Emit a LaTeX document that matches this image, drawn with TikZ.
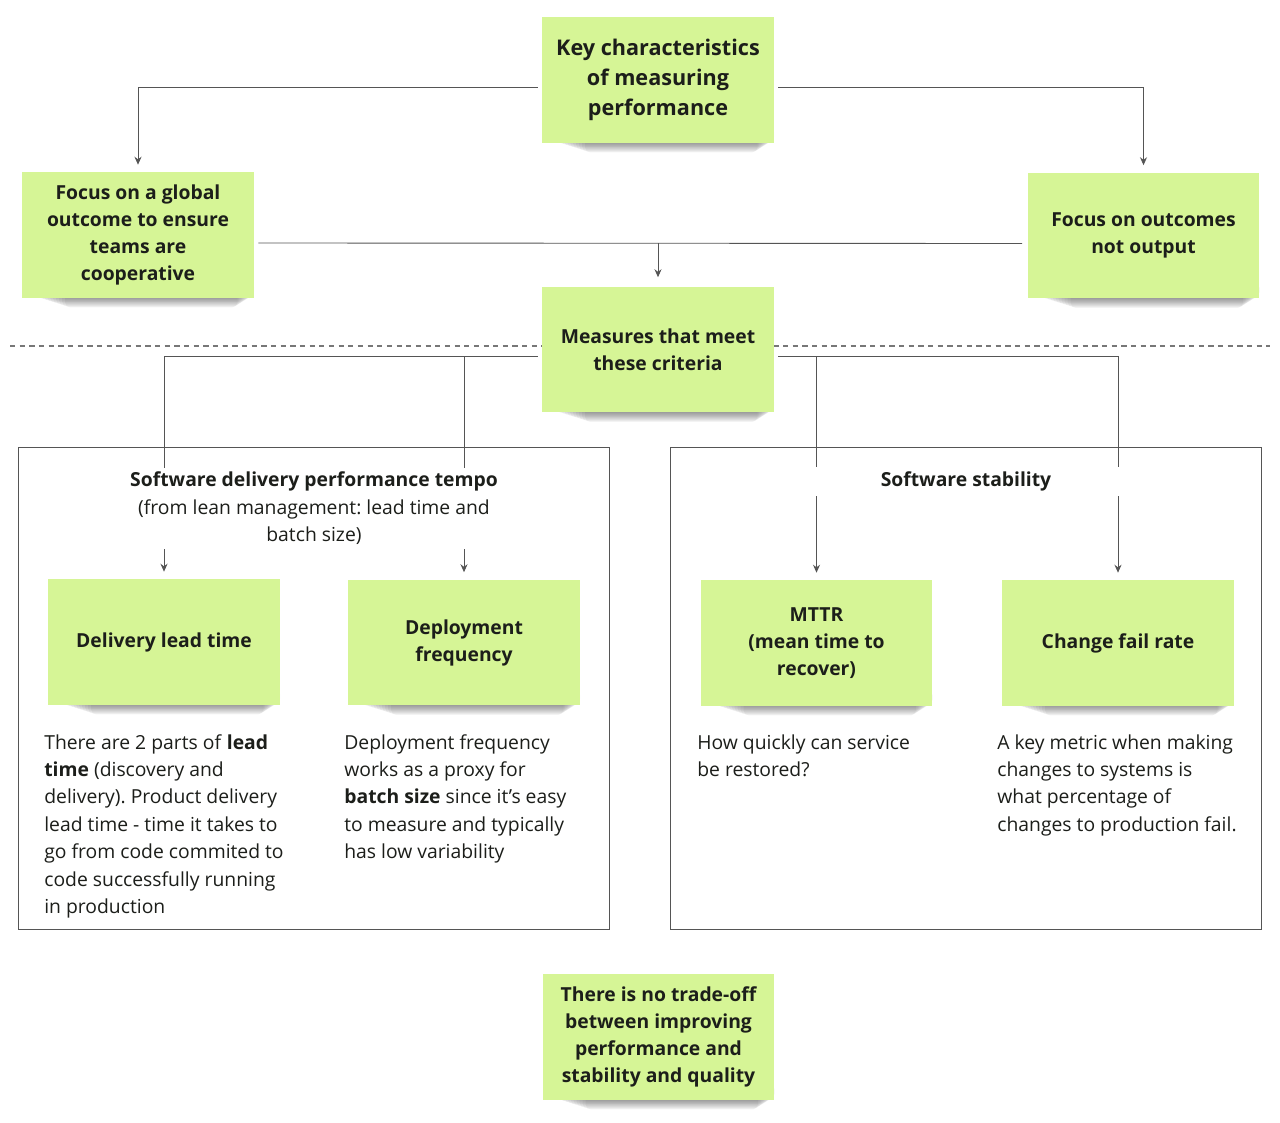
\documentclass[tikz,border=0pt]{standalone}
\usepackage{fontspec}
\setmainfont{Open Sans}
\usetikzlibrary{arrows.meta,calc}
\definecolor{stick}{RGB}{214,245,150}
\definecolor{lin}{RGB}{85,85,85}
\definecolor{txt}{RGB}{28,30,26}
\frenchspacing
\tikzset{
 sticky/.style={fill=stick, minimum width=4.64cm, minimum height=2.52cm, align=center,
   font=\bfseries\fontsize{11}{15.4}\selectfont, text=txt, inner sep=0pt},
 conn/.style={draw=lin, line width=0.5pt},
 arr/.style={conn, -{Stealth[length=4.5pt,width=4pt]}, shorten >=0.14cm},
 body/.style={align=left, font=\fontsize{11}{15.6}\selectfont, text=txt, inner sep=0pt, anchor=north west},
 framebox/.style={draw=lin, line width=0.6pt, minimum width=11.84cm, minimum height=9.66cm, inner sep=0pt},
 boxtitle/.style={fill=white, align=center, font=\fontsize{11}{15.6}\selectfont, text=txt,
   inner xsep=0pt, inner ysep=0.08cm, minimum width=6.6cm}
}
\newcommand{\stickyshadow}[2]{%
 \foreach \k in {0,...,11}{
  \fill[black, opacity=0.045, rounded corners=3pt] (#1+10+\k*3, #2+110) rectangle (#1+232-\k*1.5, #2+125+\k*0.95);
 }}
\newcommand{\putsticky}[4]{\stickyshadow{#2-116}{#3-63}\node[sticky] (#1) at (#2,#3) {#4};}
\begin{document}
\begin{tikzpicture}[x=0.02cm,y=-0.02cm]
\useasboundingbox (0,0) rectangle (1280,1122);
\fill[white] (0,0) rectangle (1280,1122);
% frames
\node[framebox] (lbox) at (314,688.5) {};
\node[framebox] (rbox) at (966,688.5) {};
% dashed separator
\coordinate (ds0) at (10,346);
\coordinate (ds1) at (1270,346);
\draw[lin!80, line width=0.6pt, dash pattern=on 3pt off 2.5pt] (ds0) -- (ds1);
% stickies
\stickyshadow{542}{17}
\node[sticky, font=\bfseries\fontsize{12.3}{17}\selectfont] (key) at (658,80) {Key characteristics\\of measuring\\performance};
\putsticky{fg}{138}{235}{Focus on a global\\outcome to ensure\\teams are\\cooperative}
\putsticky{fo}{1143.5}{235.5}{Focus on outcomes\\not output}
\putsticky{ms}{658}{349.5}{Measures that meet\\these criteria}
\putsticky{dl}{164}{642}{Delivery lead time}
\putsticky{df}{464}{642.5}{Deployment\\frequency}
\putsticky{mt}{816.5}{643}{MTTR\\(mean time to\\recover)}
\putsticky{cf}{1118}{643}{Change fail rate}
\putsticky{to}{658.5}{1037}{There is no trade-off\\between improving\\performance and\\stability and quality}
% connectors
\draw[arr] ([shift={(-4,7)}]key.west) -| (fg.north);
\draw[arr] ([shift={(4,7)}]key.east) -| (fo.north);
\draw[conn] ([shift={(4,8)}]fg.east) -- ([shift={(-5,8)}]fo.west);
\coordinate (jn) at (658,243);
\draw[arr, shorten >=0.18cm] (jn) -- (ms.north);
\draw[arr] ([shift={(-4,6.5)}]ms.west) -| (dl.north);
\draw[arr] ([shift={(-4,6.5)}]ms.west) -| (df.north);
\draw[arr] ([shift={(4,6.5)}]ms.east) -| (mt.north);
\draw[arr] ([shift={(4,6.5)}]ms.east) -| (cf.north);
% box titles
\node[boxtitle] (lt) at (314,508.5) {\textbf{Software delivery performance tempo}\\(from lean management: lead time and\\batch size)};
\node[boxtitle, minimum height=0.58cm] (rt) at (966,481) {\textbf{Software stability}};
% body texts
\node[body] (dlt) at (44,734) {There are 2 parts of \textbf{lead}\\\textbf{time} (discovery and\\delivery). Product delivery\\lead time - time it takes to\\go from code commited to\\code successfully running\\in production};
\node[body] (dft) at (344,734) {Deployment frequency\\works as a proxy for\\\textbf{batch size} since it's easy\\to measure and typically\\has low variability};
\node[body] (mtt) at (697,734) {How quickly can service\\be restored?};
\node[body] (cft) at (997,734) {A key metric when making\\changes to systems is\\what percentage of\\changes to production fail.};
\end{tikzpicture}
\end{document}
